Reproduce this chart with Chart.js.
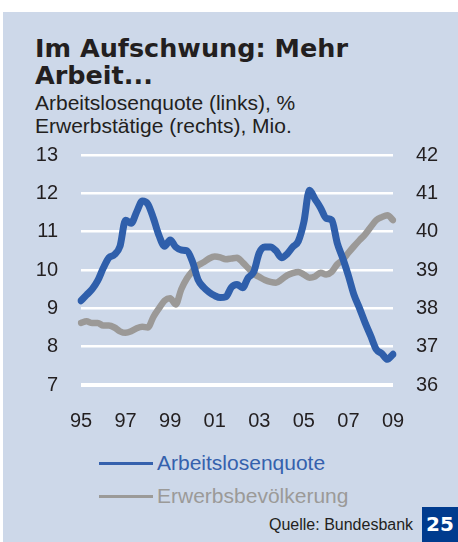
<!DOCTYPE html>
<html>
<head>
<meta charset="utf-8">
<script src="https://cdn.jsdelivr.net/npm/chart.js@4/dist/chart.umd.min.js"></script>
<style>
  html, body { margin: 0; padding: 0; background: #ffffff; }
  body { width: 458px; height: 542px; position: relative; overflow: hidden; font-family: "Liberation Sans", Arial, sans-serif; color: #231f20; }
  #panel { position: absolute; left: 3px; top: 12px; width: 455px; height: 530px; background: #cdd8e9; }
  .abs { position: absolute; white-space: nowrap; }
  #title { left: 35px; top: 35px; font-family: "DejaVu Sans", sans-serif; font-weight: bold; font-size: 25.5px; line-height: 26.5px; color: #231f20; }
  #subtitle { left: 35px; top: 91px; font-size: 21px; line-height: 23px; color: #231f20; }
  #chartBox { position: absolute; left: 0; top: 120px; width: 458px; height: 320px; }
  .leg { left: 99px; font-size: 21px; line-height: 24px; }
  .leg .sw { display: inline-block; width: 54px; height: 3px; vertical-align: middle; margin-right: 4px; position: relative; top: -1px; }
  #source { left: 269px; top: 516px; font-size: 16px; line-height: 18px; color: #231f20; }
  #badge { left: 422px; top: 507px; width: 36px; height: 35px; background: #003b8e; color: #ffffff; font-family: "DejaVu Sans", sans-serif; font-weight: bold; font-size: 20px; line-height: 35px; text-align: center; }
</style>
</head>
<body>
<div id="panel"></div>
<div id="title" class="abs">Im Aufschwung: Mehr<br>Arbeit...</div>
<div id="subtitle" class="abs">Arbeitslosenquote (links), %<br>Erwerbstätige (rechts), Mio.</div>
<div id="chartBox"><canvas id="c"></canvas></div>
<div class="abs leg" style="top:451px;color:#3561ad;"><span class="sw" style="background:#3561ad"></span>Arbeitslosenquote</div>
<div class="abs leg" style="top:484px;color:#9b9a98;"><span class="sw" style="background:#9b9a98"></span>Erwerbsbevölkerung</div>
<div id="source" class="abs">Quelle: Bundesbank</div>
<div id="badge" class="abs">25</div>
<script>
// Quarterly categories, 1995 Q1 – 2009 Q1
const quarters = [
  "1995Q1","1995Q2","1995Q3","1995Q4","1996Q1","1996Q2","1996Q3","1996Q4",
  "1997Q1","1997Q2","1997Q3","1997Q4","1998Q1","1998Q2","1998Q3","1998Q4",
  "1999Q1","1999Q2","1999Q3","1999Q4","2000Q1","2000Q2","2000Q3","2000Q4",
  "2001Q1","2001Q2","2001Q3","2001Q4","2002Q1","2002Q2","2002Q3","2002Q4",
  "2003Q1","2003Q2","2003Q3","2003Q4","2004Q1","2004Q2","2004Q3","2004Q4",
  "2005Q1","2005Q2","2005Q3","2005Q4","2006Q1","2006Q2","2006Q3","2006Q4",
  "2007Q1","2007Q2","2007Q3","2007Q4","2008Q1","2008Q2","2008Q3","2008Q4",
  "2009Q1"
];
// Arbeitslosenquote (links), %
const arbeitslosenquote = [
  9.20, 9.35, 9.50, 9.72, 10.05, 10.32, 10.40, 10.62,
  11.30, 11.22, 11.52, 11.80, 11.72, 11.35, 10.90, 10.62,
  10.78, 10.60, 10.52, 10.50, 10.22, 9.75, 9.55, 9.42,
  9.33, 9.28, 9.30, 9.55, 9.62, 9.54, 9.80, 9.95,
  10.45, 10.60, 10.60, 10.50, 10.32, 10.42, 10.60, 10.75,
  11.25, 12.08, 11.85, 11.62, 11.35, 11.30, 10.70, 10.30,
  9.85, 9.35, 9.00, 8.62, 8.28, 7.93, 7.82, 7.67,
  7.80
];
// Erwerbsbevölkerung (rechts), Mio.
const erwerbsbevoelkerung = [
  37.62, 37.66, 37.62, 37.62, 37.55, 37.55, 37.50, 37.40,
  37.36, 37.40, 37.48, 37.52, 37.50, 37.78, 38.00, 38.20,
  38.26, 38.10, 38.50, 38.78, 38.97, 39.12, 39.20, 39.30,
  39.35, 39.33, 39.28, 39.30, 39.32, 39.20, 39.05, 38.90,
  38.82, 38.74, 38.69, 38.67, 38.75, 38.86, 38.92, 38.95,
  38.88, 38.80, 38.83, 38.93, 38.88, 38.95, 39.15, 39.27,
  39.45, 39.62, 39.78, 39.93, 40.12, 40.30, 40.38, 40.43,
  40.30
];
// x tick labels shown at Q1 of odd years
const xTickLabels = { "1995Q1": "95", "1997Q1": "97", "1999Q1": "99", "2001Q1": "01",
                      "2003Q1": "03", "2005Q1": "05", "2007Q1": "07", "2009Q1": "09" };
const leftTicks = [7, 13];   // min, max
const rightTicks = [36, 42]; // min, max

const tickFont = { family: "'Liberation Sans', Arial, sans-serif", size: 20 };
const textColor = "#231f20";

new Chart(document.getElementById("c"), {
  type: "line",
  data: {
    labels: quarters,
    datasets: [
      {
        label: "Arbeitslosenquote",
        data: arbeitslosenquote,
        yAxisID: "yL",
        borderColor: "#2f5fab",
        borderWidth: 7,
        pointRadius: 0,
        cubicInterpolationMode: "monotone",
        borderJoinStyle: "round",
        borderCapStyle: "round",
        fill: false
      },
      {
        label: "Erwerbsbevölkerung",
        data: erwerbsbevoelkerung,
        yAxisID: "yR",
        borderColor: "#9b9997",
        borderWidth: 6.5,
        pointRadius: 0,
        cubicInterpolationMode: "monotone",
        borderJoinStyle: "round",
        borderCapStyle: "round",
        fill: false
      }
    ]
  },
  options: {
    responsive: true,
    maintainAspectRatio: false,
    devicePixelRatio: 1,
    animation: false,
    layout: { padding: { top: 15, left: 0, right: 0, bottom: 0 } },
    plugins: { legend: { display: false }, tooltip: { enabled: false }, title: { display: false } },
    scales: {
      x: {
        type: "category",
        offset: false,
        grid: { display: false, drawTicks: false },
        border: { display: false },
        ticks: {
          autoSkip: false, maxRotation: 0, minRotation: 0,
          padding: 24, color: textColor, font: tickFont,
          callback: function (v, i) { return xTickLabels[quarters[i]] || ""; }
        },
        afterFit: function (s) { s.height = 55; }
      },
      yL: {
        type: "linear", position: "left",
        min: leftTicks[0], max: leftTicks[1],
        grid: {
          color: "#ffffff",
          lineWidth: function (ctx) { return ctx.index === 0 ? 4 : 2.5; },
          drawTicks: false
        },
        border: { display: false },
        ticks: { stepSize: 1, padding: 23, color: textColor, font: tickFont },
        afterFit: function (s) { s.width = 81; }
      },
      yR: {
        type: "linear", position: "right",
        min: rightTicks[0], max: rightTicks[1],
        grid: { display: false, drawOnChartArea: false, drawTicks: false },
        border: { display: false },
        ticks: { stepSize: 1, padding: 23, color: textColor, font: tickFont },
        afterFit: function (s) { s.width = 65; }
      }
    }
  }
});
</script>
</body>
</html>
